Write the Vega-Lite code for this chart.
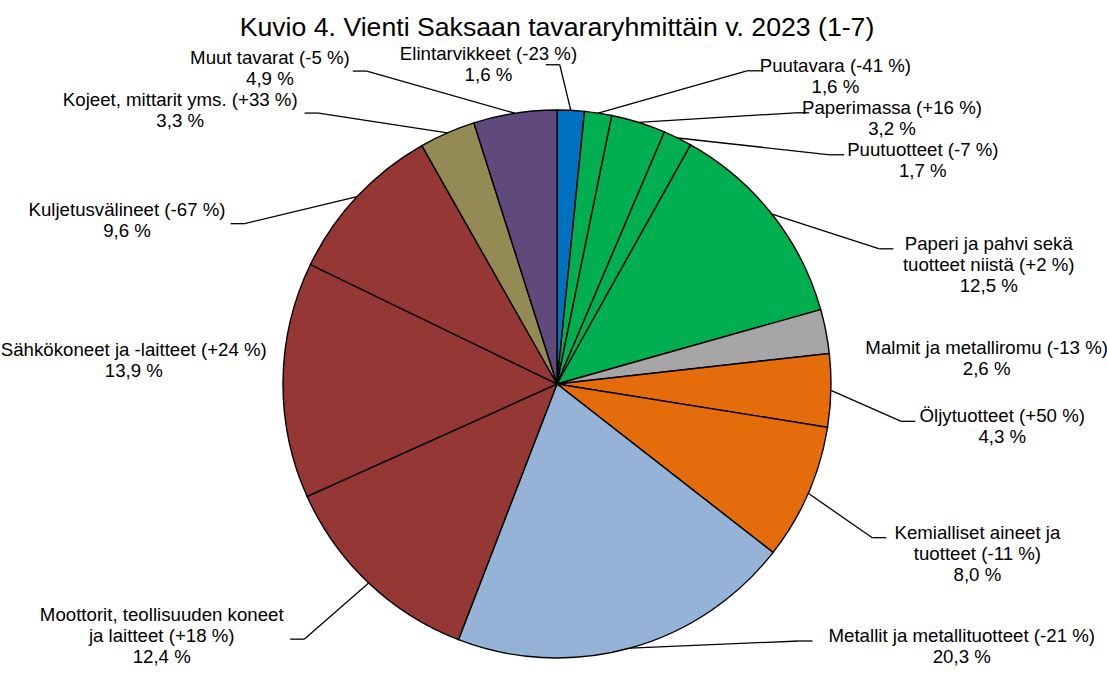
{
  "$schema": "https://vega.github.io/schema/vega-lite/v6.json",
  "width": 1100,
  "height": 586,
  "autosize": {"type": "none"},
  "padding": {"left": 7, "top": 91, "right": 0, "bottom": 0},
  "title": {
    "text": "Kuvio 4. Vienti Saksaan tavararyhmittäin v. 2023 (1-7)",
    "fontSize": 26.67,
    "font": "Liberation Sans",
    "fontWeight": "normal",
    "color": "#000000",
    "anchor": "middle",
    "offset": 3
  },
  "config": {"view": {"stroke": null}, "font": "Liberation Sans"},
  "data": {
    "values": [
      {"order": 1, "name": "Elintarvikkeet", "change": -23, "share": 1.6},
      {"order": 2, "name": "Puutavara", "change": -41, "share": 1.6},
      {"order": 3, "name": "Paperimassa", "change": 16, "share": 3.2},
      {"order": 4, "name": "Puutuotteet", "change": -7, "share": 1.7},
      {"order": 5, "name": "Paperi ja pahvi sekä\ntuotteet niistä", "change": 2, "share": 12.5},
      {"order": 6, "name": "Malmit ja metalliromu", "change": -13, "share": 2.6},
      {"order": 7, "name": "Öljytuotteet", "change": 50, "share": 4.3},
      {"order": 8, "name": "Kemialliset aineet ja\ntuotteet", "change": -11, "share": 8.0},
      {"order": 9, "name": "Metallit ja metallituotteet", "change": -21, "share": 20.3},
      {"order": 10, "name": "Moottorit, teollisuuden koneet\nja laitteet", "change": 18, "share": 12.4},
      {"order": 11, "name": "Sähkökoneet ja -laitteet", "change": 24, "share": 13.9},
      {"order": 12, "name": "Kuljetusvälineet", "change": -67, "share": 9.6},
      {"order": 13, "name": "Kojeet, mittarit yms.", "change": 33, "share": 3.3},
      {"order": 14, "name": "Muut tavarat", "change": -5, "share": 4.9}
    ]
  },
  "transform": [
    {"calculate": "datum.name + ' (' + (datum.change > 0 ? '+' : '') + datum.change + ' %)\\n' + replace(format(datum.share, '.1f'), '.', ',') + ' %'", "as": "label"},
    {"joinaggregate": [{"op": "sum", "field": "share", "as": "total"}]},
    {"window": [{"op": "sum", "field": "share", "as": "cum"}], "sort": [{"field": "order", "order": "ascending"}], "frame": [null, 0]},
    {"calculate": "(datum.cum - datum.share / 2) / datum.total * 2 * PI", "as": "mid"},
    {"calculate": "abs(sin(datum.mid)) < 0.1 && cos(datum.mid) > 0 ? 0 : (sin(datum.mid) > 0 ? 1 : -1)", "as": "grp"},
    {"calculate": "datum.grp == 0 ? -1 : datum.grp", "as": "sgn"},
    {"calculate": "datum.grp > 0 ? datum.mid : -datum.mid", "as": "vkey"},
    {"calculate": "cos(datum.mid) > 0 ? max(-322, -20 - 300 * pow(cos(datum.mid), 2)) : min(257, 30 - 310 * cos(datum.mid))", "as": "ynat"},
    {"calculate": "split(datum.label, '\\n')", "as": "lines"},
    {"calculate": "length(datum.lines)", "as": "nl"},
    {"calculate": "datum.nl * 21", "as": "h"},
    {"calculate": "8.3 * max(length(datum.lines[0]), length(datum.lines[1] || ''), length(datum.lines[2] || ''))", "as": "w"},
    {"window": [{"op": "sum", "field": "h", "as": "hs"}], "groupby": ["grp"], "sort": [{"field": "vkey", "order": "ascending"}], "frame": [null, 0], "ignorePeers": true},
    {"calculate": "datum.hs - datum.h", "as": "c"},
    {"calculate": "datum.ynat - datum.c", "as": "t"},
    {"window": [{"op": "max", "field": "t", "as": "cm"}], "groupby": ["grp"], "sort": [{"field": "vkey", "order": "ascending"}], "frame": [null, 0], "ignorePeers": true},
    {"calculate": "datum.c + datum.cm", "as": "ya"},
    {"calculate": "274 * sin(datum.mid)", "as": "ex"},
    {"calculate": "-274 * cos(datum.mid)", "as": "ey"},
    {"calculate": "datum.grp == 0 ? datum.ex - 25 : datum.sgn * min(360 * sqrt(max(0, 1 - pow(datum.ya / 380, 2))), (datum.sgn > 0 ? 546 : 552) - datum.w)", "as": "xa"},
    {"calculate": "datum.xa - datum.sgn * 14", "as": "xk"},
    {"calculate": "sqrt(pow(datum.xk - datum.ex, 2) + pow(datum.ya - datum.ey, 2))", "as": "leaderLen"},
    {"calculate": "datum.grp == 0 ? datum.ex + 9 - datum.w / 2 : datum.xa + datum.sgn * (4 + datum.w / 2)", "as": "tx"},
    {"calculate": "datum.grp == 0 ? datum.ya - 5 : (datum.sgn > 0 ? datum.ya + 1 : datum.ya - ((datum.nl - 1) * 21 - 10) / 2 - 2)", "as": "ty"}
  ],
  "layer": [
    {
      "mark": {"type": "arc", "outerRadius": 274, "stroke": "#000000", "strokeWidth": 1.4},
      "encoding": {
        "theta": {"field": "share", "type": "quantitative", "stack": true},
        "order": {"field": "order", "type": "quantitative"},
        "color": {
          "field": "name",
          "type": "nominal",
          "legend": null,
          "scale": {
            "domain": ["Elintarvikkeet", "Puutavara", "Paperimassa", "Puutuotteet", "Paperi ja pahvi sekä\ntuotteet niistä", "Malmit ja metalliromu", "Öljytuotteet", "Kemialliset aineet ja\ntuotteet", "Metallit ja metallituotteet", "Moottorit, teollisuuden koneet\nja laitteet", "Sähkökoneet ja -laitteet", "Kuljetusvälineet", "Kojeet, mittarit yms.", "Muut tavarat"],
            "range": ["#0070C0", "#00B050", "#00B050", "#00B050", "#00B050", "#A6A6A6", "#E46C0A", "#E46C0A", "#95B3D7", "#953735", "#953735", "#953735", "#948A54", "#604A7B"]
          }
        }
      }
    },
    {
      "transform": [{"filter": "datum.leaderLen > 40"}],
      "mark": {"type": "rule", "color": "#000000", "strokeWidth": 1.3},
      "encoding": {
        "x": {"field": "ex", "type": "quantitative", "scale": {"domain": [-550, 550], "nice": false, "zero": false}, "axis": null},
        "y": {"field": "ey", "type": "quantitative", "scale": {"domain": [-293, 293], "reverse": true, "nice": false, "zero": false}, "axis": null},
        "x2": {"field": "xk"},
        "y2": {"field": "ya"}
      }
    },
    {
      "transform": [{"filter": "datum.leaderLen > 40"}],
      "mark": {"type": "rule", "color": "#000000", "strokeWidth": 1.3},
      "encoding": {
        "x": {"field": "xk", "type": "quantitative"},
        "y": {"field": "ya", "type": "quantitative"},
        "x2": {"field": "xa"},
        "y2": {"field": "ya"}
      }
    },
    {
      "mark": {"type": "text", "align": "center", "baseline": "alphabetic", "fontSize": 18.67, "lineHeight": 21, "lineBreak": "\n", "color": "#000000", "font": "Liberation Sans"},
      "encoding": {
        "x": {"field": "tx", "type": "quantitative"},
        "y": {"field": "ty", "type": "quantitative"},
        "text": {"field": "label", "type": "nominal"}
      }
    }
  ]
}
